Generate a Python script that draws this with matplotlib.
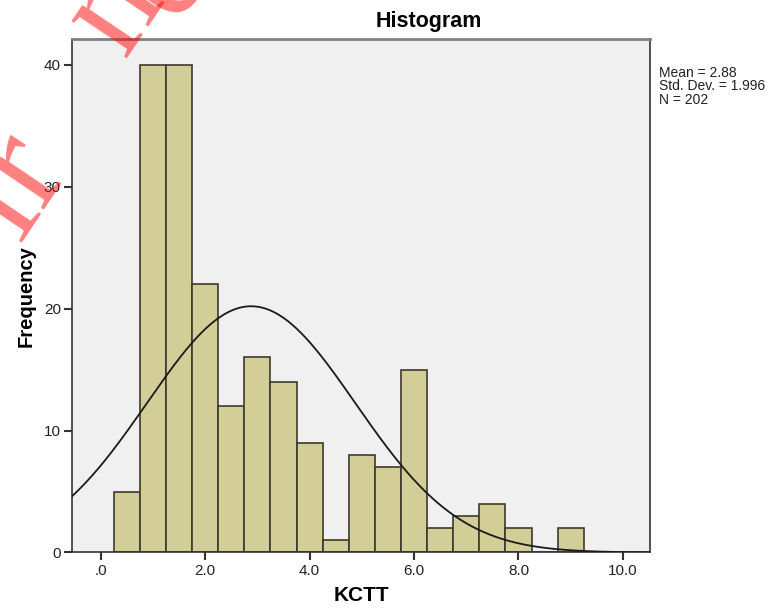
import numpy as np
import matplotlib.pyplot as plt

# ---------- DATA ----------
bin_edges = [0.25, 0.75, 1.25, 1.75, 2.25, 2.75, 3.25, 3.75, 4.25, 4.75,
             5.25, 5.75, 6.25, 6.75, 7.25, 7.75, 8.25, 8.75, 9.25]
counts = [5, 40, 40, 22, 12, 16, 14, 9, 1, 8, 7, 15, 2, 3, 4, 2, 0, 2]
x_ticks = [0, 2, 4, 6, 8, 10]
x_tick_labels = [".0", "2.0", "4.0", "6.0", "8.0", "10.0"]
y_ticks = [0, 10, 20, 30, 40]
MEAN = 2.88
STD = 1.996
N = 202
# --------------------------

plt.rcParams["font.family"] = ["Liberation Sans", "DejaVu Sans"]

BAR_FILL = "#d3ce97"
BAR_EDGE = "#3b3a2c"
BG = "#f0f0f0"

fig = plt.figure(figsize=(7.77, 6.08), dpi=100)
ax = fig.add_axes([0.0927, 0.0913, 0.7439, 0.8446])
ax.set_facecolor(BG)

edges = np.array(bin_edges)
widths = np.diff(edges)
ax.bar(edges[:-1], counts, width=widths, align="edge",
       color=BAR_FILL, edgecolor=BAR_EDGE, linewidth=1.2, zorder=2)

# fitted normal curve, scaled to counts
bw = widths[0]
xs = np.linspace(-0.6, 10.6, 400)
ys = N * bw * np.exp(-0.5 * ((xs - MEAN) / STD) ** 2) / (STD * np.sqrt(2 * np.pi))
ax.plot(xs, ys, color="#1a1a1a", linewidth=1.3, zorder=3)

ax.set_xlim(-0.55, 10.52)
ax.set_ylim(0, 42.1)
ax.set_xticks(x_ticks)
ax.set_xticklabels(x_tick_labels)
ax.set_yticks(y_ticks)
ax.tick_params(axis="both", direction="out", length=6, width=1.5,
               color="#333333", labelsize=11, labelcolor="#222222", pad=2)

for side in ["left", "bottom", "right"]:
    ax.spines[side].set_color("#333333")
    ax.spines[side].set_linewidth(1.2)
ax.spines["top"].set_color("#808080")
ax.spines["top"].set_linewidth(2)

ax.set_xlabel("KCTT", fontsize=15, fontweight="bold", labelpad=6)
ax.set_ylabel("Frequency", fontsize=14.5, fontweight="bold", labelpad=6)

# SPSS centres the title over the whole chart, not the plot box
fig.text(429 / 777, 1 - 22 / 608, "Histogram", fontsize=15.5,
         fontweight="bold", ha="center", va="center")

fig.text(659 / 777, 1 - 66 / 608,
         f"Mean = {MEAN}\nStd. Dev. = {STD}\nN = {N}",
         fontsize=10, va="top", ha="left", color="#222222", linespacing=0.95)

# red watermark letters (partly off the page, as in the source image)
for letter, px, py in [("l", 19, 243), ("r", 41, 210), ("n", 124, 58), ("e", 175, 22)]:
    fig.text(px / 777, 1 - py / 608, letter, family="Liberation Serif",
             fontsize=105, color="red", alpha=0.5, rotation=56,
             rotation_mode="anchor", ha="left", va="baseline", zorder=10)

fig.savefig("out.png", dpi=100)
